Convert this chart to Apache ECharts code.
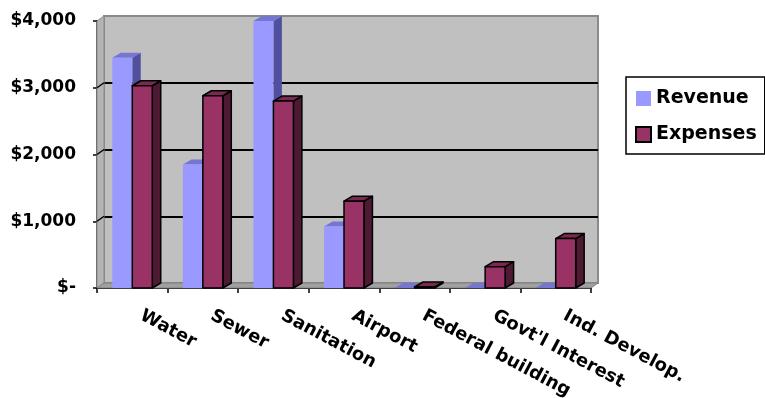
<!DOCTYPE html>
<html>
<head>
<meta charset="utf-8">
<title>Revenue vs Expenses</title>
<script src="https://cdn.jsdelivr.net/npm/echarts@6/dist/echarts.min.js"></script>
<style>
  html, body { margin: 0; padding: 0; background: #fff; }
  #chart { width: 765px; height: 398px; }
</style>
</head>
<body>
<div id="chart"></div>
<script>
// data
var categories = ['Water', 'Sewer', 'Sanitation', 'Airport', 'Federal building', "Govt'l Interest", 'Ind. Develop.'];
var revenue = [3450, 1850, 4000, 920, 0, 0, 0];
var expenses = [3030, 2880, 2800, 1300, 15, 320, 740];
var yTicks = [0, 1000, 2000, 3000, 4000];
var yTickLabels = ['$-', '$1,000', '$2,000', '$3,000', '$4,000'];

var FONT = 'DejaVu Sans';
// front plane of the plot, and how far back the wall sits
var front = { left: 97, top: 21, width: 494, height: 267 };
var depth = { dx: 7, dy: -5 };

var revColors = { front: '#9999ff', top: '#7575d2', side: '#50509e' };
var expColors = { front: '#993366', top: '#7a2951', side: '#4d1933' };

// 3d-ish column: front face, top face and right side face
function barRenderer(side, c, outline) {
  return function (params, api) {
    var base = api.coord([api.value(0), 0]);
    var top = api.coord([api.value(0), api.value(1)]);
    var bw = api.size([1, 0])[0];
    var w = bw * 0.283;
    var dx = bw * 0.12, dy = 5;
    var x0 = side < 0 ? base[0] - w : base[0];
    var x1 = x0 + w;
    var yb = base[1], yt = top[1];
    function st(fill) {
      var s = { fill: fill };
      if (outline) { s.stroke = '#000'; s.lineWidth = 1.5; s.lineJoin = 'round'; }
      return s;
    }
    return {
      type: 'group',
      children: [
        { type: 'polygon', shape: { points: [[x1, yb], [x1 + dx, yb - dy], [x1 + dx, yt - dy], [x1, yt]] }, style: st(c.side) },
        { type: 'polygon', shape: { points: [[x0, yt], [x0 + dx, yt - dy], [x1 + dx, yt - dy], [x1, yt]] }, style: st(c.top) },
        { type: 'rect', shape: { x: x0, y: yt, width: w, height: yb - yt }, style: st(c.front) }
      ]
    };
  };
}

var chart = echarts.init(document.getElementById('chart'));

var option = {
  animation: false,
  backgroundColor: '#fff',
  grid: [
    // front plane (axes + bars)
    {
      left: front.left, top: front.top, width: front.width, height: front.height,
      show: false, containLabel: false, outerBoundsMode: 'none'
    },
    // back wall
    {
      left: front.left + depth.dx, top: front.top + depth.dy, width: front.width, height: front.height,
      show: true, backgroundColor: '#c0c0c0', borderColor: '#8a8a8a', borderWidth: 2,
      containLabel: false, outerBoundsMode: 'none'
    }
  ],
  legend: {
    orient: 'vertical',
    left: 626,
    top: 77,
    padding: [12, 8, 10, 9],
    itemGap: 17,
    itemWidth: 15,
    itemHeight: 15,
    borderColor: '#000',
    borderWidth: 1.5,
    icon: 'rect',
    textStyle: { fontFamily: FONT, fontWeight: 'bold', fontSize: 19, color: '#000' },
    data: [
      { name: 'Revenue', itemStyle: { color: revColors.front, borderWidth: 0 } },
      { name: 'Expenses', itemStyle: { color: expColors.front, borderColor: '#000', borderWidth: 2 } }
    ]
  },
  xAxis: [
    {
      type: 'category',
      gridIndex: 0,
      data: categories,
      axisLine: { lineStyle: { color: '#000', width: 2 } },
      axisTick: { show: true, length: 5, interval: 0, lineStyle: { color: '#000', width: 1.5 } },
      axisLabel: {
        interval: 0,
        rotate: -28,
        margin: 22,
        padding: [0, 0, 0, 10],
        color: '#000',
        fontFamily: FONT,
        fontWeight: 'bold',
        fontSize: 18
      },
      splitLine: { show: false }
    },
    { type: 'category', gridIndex: 1, data: categories, show: false }
  ],
  yAxis: [
    {
      type: 'value',
      gridIndex: 0,
      min: 0,
      max: 4000,
      interval: 1000,
      axisLine: { show: true, lineStyle: { color: '#222', width: 1.5 } },
      axisTick: { show: true, length: 4, lineStyle: { color: '#000', width: 1.5 } },
      axisLabel: {
        margin: 21,
        color: '#000',
        fontFamily: FONT,
        fontWeight: 'bold',
        fontSize: 17,
        formatter: function (v) {
          var i = yTicks.indexOf(v);
          return i >= 0 ? yTickLabels[i] : '';
        }
      },
      splitLine: { show: false }
    },
    {
      type: 'value',
      gridIndex: 1,
      min: 0,
      max: 4000,
      interval: 1000,
      axisLine: { show: false },
      axisTick: { show: false },
      axisLabel: { show: false },
      splitLine: { show: true, showMinLine: false, showMaxLine: false, lineStyle: { color: '#000', width: 2 } }
    }
  ],
  series: [
    {
      name: 'Revenue',
      type: 'custom',
      xAxisIndex: 0,
      yAxisIndex: 0,
      clip: false,
      z: 5,
      itemStyle: { color: revColors.front },
      renderItem: barRenderer(-1, revColors, false),
      encode: { x: 0, y: 1 },
      data: revenue.map(function (v, i) { return [i, v]; })
    },
    {
      name: 'Expenses',
      type: 'custom',
      xAxisIndex: 0,
      yAxisIndex: 0,
      clip: false,
      z: 6,
      itemStyle: { color: expColors.front },
      renderItem: barRenderer(1, expColors, true),
      encode: { x: 0, y: 1 },
      data: expenses.map(function (v, i) { return [i, v]; })
    }
  ]
};

chart.setOption(option);

// left wall, floor and the short diagonal gridline stubs on the left wall
var L = front.left, R = front.left + front.width;
var T = front.top, B = front.top + front.height;
var dx = depth.dx, dy = depth.dy;
var graphics = [
  {
    type: 'polygon', z: 1,
    shape: { points: [[L, T], [L + dx, T + dy], [L + dx, B + dy], [L, B]] },
    style: { fill: '#b4b4b4', stroke: '#8a8a8a', lineWidth: 1 }
  },
  {
    type: 'polygon', z: 1,
    shape: { points: [[L, B], [L + dx, B + dy], [R + dx, B + dy], [R, B]] },
    style: { fill: '#a0a0a0', stroke: '#808080', lineWidth: 1 }
  }
];
yTicks.forEach(function (v) {
  if (v === 0 || v === 4000) return;
  var y = chart.convertToPixel({ yAxisIndex: 0 }, v);
  graphics.push({
    type: 'line', z: 2,
    shape: { x1: L, y1: y, x2: L + dx, y2: y + dy },
    style: { stroke: '#000', lineWidth: 1.5 }
  });
});
chart.setOption({ graphic: graphics });
</script>
</body>
</html>
